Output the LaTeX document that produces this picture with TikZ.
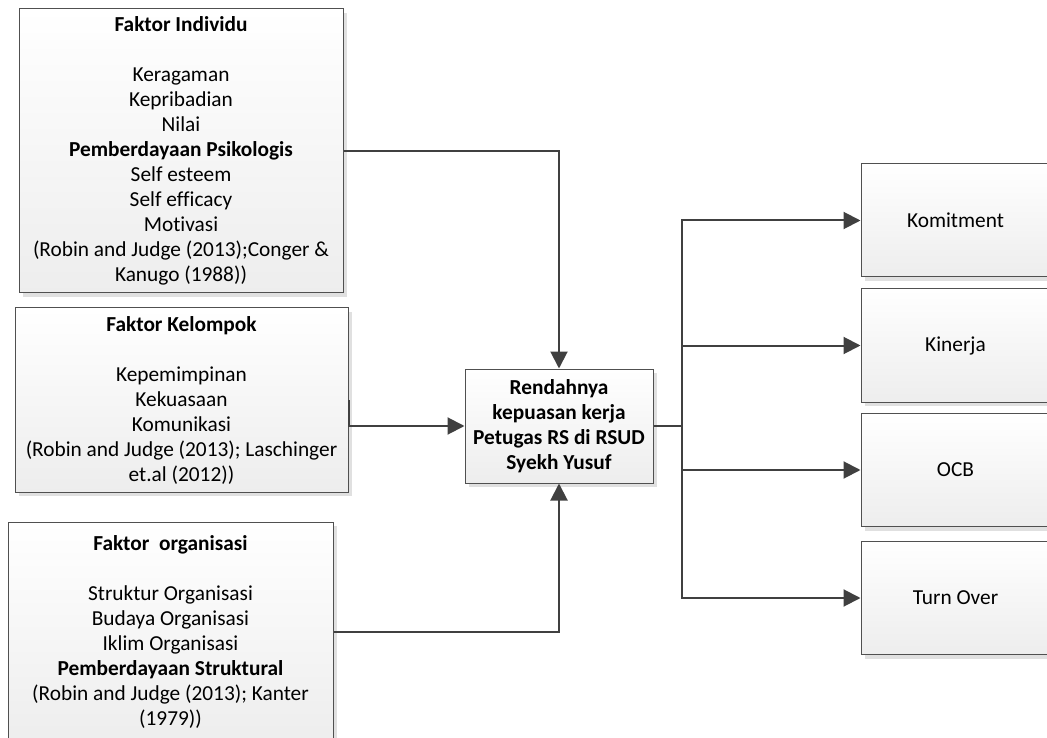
\documentclass[tikz,border=0pt]{standalone}
\usepackage{fontspec}
\setmainfont[Ligatures=NoCommon]{Carlito}
\usetikzlibrary{arrows.meta,shadows}
\definecolor{linegray}{HTML}{404040}
\definecolor{edgegray}{HTML}{505050}
\begin{document}
\begin{tikzpicture}
[ x=0.75pt, y=-0.75pt
, font=\fontsize{16pt}{18.75pt}\selectfont
, box/.style={rectangle, draw=edgegray, line width=0.75pt, inner sep=0pt, align=center,
    top color=white, bottom color=black!7,
    drop shadow={shadow xshift=3pt, shadow yshift=-3pt, fill=black!12, opacity=1}}
, factor/.style={box}
, outcome/.style={box, minimum width=141.75pt, minimum height=84.75pt}
, link/.style={draw=linegray, line width=1.5pt, -{Triangle[length=12.75pt,width=12.75pt]}}
, plain/.style={draw=linegray, line width=1.5pt}
]
\clip (0,0) rectangle (1047,738);
\useasboundingbox (0,0) rectangle (1047,738);
% Left column: factors
\node (individu) [factor, minimum width=243pt, minimum height=213pt] at (181,151)
  {\textbf{Faktor Individu}\\[18.75pt]
   Keragaman\\ Kepribadian\\ Nilai\\ \textbf{Pemberdayaan Psikologis}\\
   Self esteem\\ Self efficacy\\ Motivasi\\
   (Robin and Judge (2013);Conger \&\\ Kanugo (1988))};
\node (kelompok) [factor, minimum width=249.75pt, minimum height=138pt] at (181.5,400)
  {\textbf{Faktor Kelompok}\\[18.75pt]
   Kepemimpinan\\ Kekuasaan\\ Komunikasi\\
   (Robin and Judge (2013); Laschinger\\ et.al (2012))};
\node (organisasi) [factor, minimum width=243.75pt, minimum height=165pt] at (170.5,632)
  {\textbf{Faktor\ \ organisasi}\\[18.75pt]
   Struktur Organisasi\\ Budaya Organisasi\\ Iklim Organisasi\\
   \textbf{Pemberdayaan Struktural}\\
   (Robin and Judge (2013); Kanter\\ (1979))};
% Centre
\node (rendah) [box, minimum width=141pt, minimum height=85.5pt, font=\fontsize{16pt}{18.75pt}\selectfont\bfseries] at (559,426)
  {Rendahnya\\ kepuasan kerja\\ Petugas RS di RSUD\\ Syekh Yusuf};
% Right column: outcomes
\node (komitment) [outcome] at (955.5,220.5) {Komitment};
\node (kinerja) [outcome] at (955.5,345.5) {Kinerja};
\node (ocb) [outcome] at (955.5,470) {OCB};
\node (turnover) [outcome] at (955.5,598) {Turn Over};
\coordinate (split) at (682,426);
% Connectors
\draw [link] (individu.east) -| (rendah.north);
\draw [link] (kelompok.east) |- (rendah.west);
\draw [link] (organisasi.east) -| (rendah.south);
\draw [plain] (rendah.east) -- (split);
\foreach \target in {komitment,kinerja,ocb,turnover}
  \draw [link] (split) |- (\target.west);
\end{tikzpicture}
\end{document}
